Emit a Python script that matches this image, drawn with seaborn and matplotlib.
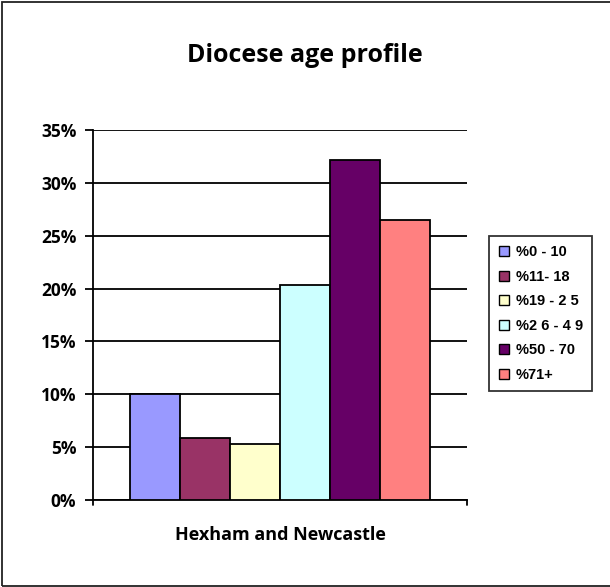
import numpy as np
import pandas as pd
import seaborn as sns
import matplotlib.pyplot as plt
from matplotlib.patches import Rectangle
from matplotlib.ticker import PercentFormatter

# data
diocese = ["Hexham and Newcastle"]
age_groups = ["%0 - 10", "%11- 18", "%19 - 2 5", "%2 6 - 4 9", "%50 - 70", "%71+"]
shares = [10.0, 5.9, 5.3, 20.3, 32.2, 26.5]
bar_colors = ["#9999FF", "#993366", "#FFFFCC", "#CCFFFF", "#660066", "#FF8080"]

df = pd.DataFrame({
    "diocese": diocese * len(age_groups),
    "age": age_groups,
    "share": shares,
})

sns.set_style("white")
plt.rcParams["font.family"] = ["Open Sans", "DejaVu Sans"]
plt.rcParams["text.color"] = "black"
plt.rcParams["xtick.color"] = "black"
plt.rcParams["ytick.color"] = "black"

fig = plt.figure(figsize=(6.10, 5.87), dpi=100)
ax = fig.add_axes([0.1525, 0.1482, 0.6131, 0.6303])

sns.barplot(data=df, x="diocese", y="share", hue="age", hue_order=age_groups,
            palette=bar_colors, width=0.8, edgecolor="black", linewidth=1.3,
            saturation=1, ax=ax, zorder=3)

ax.set_ylim(0, 35)
ax.set_xlim(-0.5, 0.5)
ax.set_yticks(np.arange(0, 36, 5))
ax.yaxis.set_major_formatter(PercentFormatter(decimals=0))
ax.grid(axis="y", color="black", linewidth=1.3, zorder=0)
ax.set_axisbelow(True)

for side in ["top", "right"]:
    ax.spines[side].set_visible(False)
for side in ["left", "bottom"]:
    ax.spines[side].set_color("black")
    ax.spines[side].set_linewidth(1.3)

ax.tick_params(axis="y", length=6, width=1.3, color="black", direction="out",
               left=True, labelsize=12.5, pad=6, labelcolor="black")
ax.tick_params(axis="x", bottom=False, labelsize=13, pad=15, labelcolor="black")
for lbl in ax.get_yticklabels() + ax.get_xticklabels():
    lbl.set_fontweight("bold")
ax.set_xlabel("")
ax.set_ylabel("")

# small end ticks on the category axis
ax.plot([-0.5, -0.5], [0, -0.45], color="black", lw=1.3, clip_on=False)
ax.plot([0.5, 0.5], [0, -0.45], color="black", lw=1.3, clip_on=False)

fig.text(0.5, 0.906, "Diocese age profile", ha="center", va="center",
         fontsize=18, fontweight="bold", color="black")

leg = ax.legend(loc="upper left", bbox_to_anchor=(1.06, 0.714),
                frameon=True, fancybox=False, edgecolor="black",
                prop={"family": ["Liberation Sans", "DejaVu Sans"], "weight": "bold", "size": 10.5},
                handlelength=0.7, handleheight=0.7, handletextpad=0.45,
                labelspacing=0.72, borderpad=0.65, borderaxespad=0)
leg.get_frame().set_linewidth(1.3)
for h in leg.legend_handles:
    h.set_edgecolor("black")
    h.set_linewidth(1.0)
for t in leg.get_texts():
    t.set_color("black")

fig.patches.append(Rectangle((2 / 610, 1 / 587), 1.0, 584 / 587,
                             transform=fig.transFigure, fill=False,
                             edgecolor="#222222", linewidth=1.3))

fig.savefig("out.png", dpi=100)
